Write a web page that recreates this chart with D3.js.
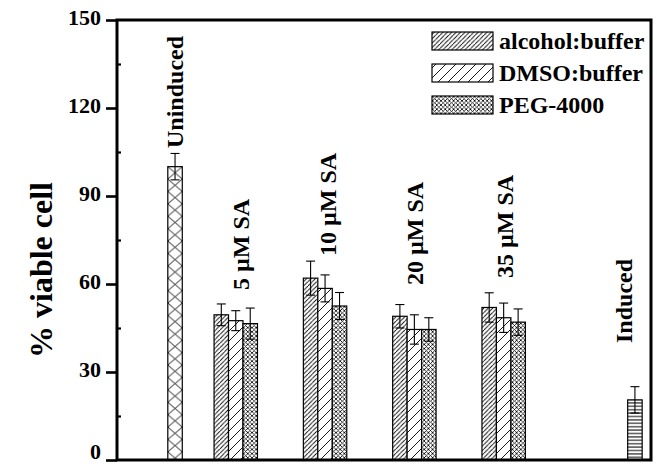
<!DOCTYPE html>
<html>
<head>
<meta charset="utf-8">
<script src="https://cdn.jsdelivr.net/npm/d3@7"></script>
<style>
  html, body { margin: 0; padding: 0; background: #fff; }
  svg { display: block; }
  text { font-family: "Liberation Serif", "Times New Roman", serif; font-weight: bold; fill: #000; }
</style>
</head>
<body>
<svg id="chart" width="657" height="464"></svg>
<script>
// Treatment groups along the x axis (position in axis units)
const groups = ["5 µM SA", "10 µM SA", "20 µM SA", "35 µM SA"];
const groupPos = [2, 3, 4, 5];

// Solvent series: mean % viable cells and error
const seriesNames = ["alcohol:buffer", "DMSO:buffer", "PEG-4000"];
const alcoholMean = [49.5, 62.0, 49.0, 52.0];
const alcoholErr  = [3.7, 5.8, 4.0, 5.0];
const dmsoMean    = [47.5, 58.5, 44.5, 48.5];
const dmsoErr     = [3.4, 4.6, 5.0, 5.0];
const pegMean     = [46.5, 52.5, 44.5, 47.0];
const pegErr      = [5.3, 4.6, 4.0, 4.5];

// Control bars
const controls = ["Uninduced", "Induced"];
const controlPos = [1.32, 6.47];
const controlMean = [100, 20.5];
const controlErr = [4.5, 4.5];

// Y axis ticks
const yTicks = [0, 30, 60, 90, 120, 150];
const yMinor = [15, 45, 75, 105, 135];

const svg = d3.select("#chart");
const plotLeft = 117, plotRight = 651, plotTop = 20, plotBottom = 460;

const x = d3.scaleLinear().domain([0.67, 6.65]).range([plotLeft, plotRight]);
const y = d3.scaleLinear().domain([0, 150]).range([plotBottom, plotTop]);
const barW = x(0.162) - x(0);

// Fill patterns
const defs = svg.append("defs");
function hatch(id, w, h, draw, bg) {
  const p = defs.append("pattern").attr("id", id)
    .attr("patternUnits", "userSpaceOnUse").attr("width", w).attr("height", h);
  p.append("rect").attr("width", w).attr("height", h).attr("fill", bg || "#fff");
  draw(p, w, h);
  return p;
}
const ln = (p, d, sw) => p.append("path").attr("d", d).attr("stroke", "#000")
  .attr("stroke-width", sw).attr("fill", "none");

// dense forward diagonal
hatch("pAlcohol", 4.4, 4.4, (p, w, h) =>
  ln(p, `M0,${h} L${w},0 M${-w},${h} L0,0 M${w},${2*h} L${2*w},${h}`, 0.9));
// sparse forward diagonal
hatch("pDmso", 10, 10, (p, w, h) =>
  ln(p, `M0,${h} L${w},0 M${-w},${h} L0,0 M${w},${2*h} L${2*w},${h}`, 0.9));
// dense cross-hatch
hatch("pPeg", 4.2, 4.2, (p, w, h) =>
  ln(p, `M0,${h} L${w},0 M0,0 L${w},${h} M${-w},${h} L0,0 M${w},${2*h} L${2*w},${h}`, 0.8));
// horizontal lines
hatch("pInduced", 6, 3.4, (p, w, h) => ln(p, `M0,${h/2} L${w},${h/2}`, 1));

const seriesFill = ["url(#pAlcohol)", "url(#pDmso)", "url(#pPeg)"];
const seriesMean = [alcoholMean, dmsoMean, pegMean];
const seriesErr = [alcoholErr, dmsoErr, pegErr];

// Grouped bars
const bars = [];
seriesNames.forEach((name, s) => {
  groupPos.forEach((gp, i) => {
    const cx = x(gp) + (s - 1) * barW;
    bars.push({ cx, v: seriesMean[s][i], e: seriesErr[s][i], fill: seriesFill[s] });
  });
});

// Control bars: sparse cross-hatch for Uninduced, horizontal lines for Induced
controls.forEach((c, i) => {
  const cx = x(controlPos[i]);
  let fill = "url(#pInduced)";
  if (c === "Uninduced") {
    const id = "pUninduced";
    hatch(id, barW, 12.4, (p, w, h) =>
      ln(p, `M0,0 L${w},${h} M0,${h} L${w},0`, 0.9))
      .attr("x", cx - barW / 2).attr("y", y(controlMean[i]));
    fill = `url(#${id})`;
  }
  bars.push({ cx, v: controlMean[i], e: controlErr[i], fill });
});

const g = svg.append("g");
g.selectAll("rect.bar").data(bars).join("rect")
  .attr("class", "bar")
  .attr("x", d => d.cx - barW / 2)
  .attr("y", d => y(d.v))
  .attr("width", barW)
  .attr("height", d => y(0) - y(d.v))
  .attr("fill", d => d.fill)
  .attr("stroke", "#000").attr("stroke-width", 1.2);

// Error bars
const capW = 9;
const eb = g.selectAll("g.err").data(bars).join("g").attr("class", "err")
  .attr("stroke", "#000").attr("stroke-width", 1.1);
eb.append("line").attr("x1", d => d.cx).attr("x2", d => d.cx)
  .attr("y1", d => y(d.v + d.e)).attr("y2", d => y(d.v - d.e));
eb.append("line").attr("x1", d => d.cx - capW / 2).attr("x2", d => d.cx + capW / 2)
  .attr("y1", d => y(d.v + d.e)).attr("y2", d => y(d.v + d.e));
eb.append("line").attr("x1", d => d.cx - capW / 2).attr("x2", d => d.cx + capW / 2)
  .attr("y1", d => y(d.v - d.e)).attr("y2", d => y(d.v - d.e));

// Rotated category labels
const labelFont = 24;
const labels = [
  { t: "Uninduced", cx: x(controlPos[0]), yb: 148 },
  { t: groups[0], cx: x(groupPos[0]) + 5, yb: 290 },
  { t: groups[1], cx: x(groupPos[1]) + 3, yb: 256 },
  { t: groups[2], cx: x(groupPos[2]) + 1, yb: 285 },
  { t: groups[3], cx: x(groupPos[3]) + 1, yb: 278 },
  { t: "Induced", cx: x(controlPos[1]) - 11, yb: 343 }
];
svg.selectAll("text.cat").data(labels).join("text")
  .attr("class", "cat")
  .attr("transform", d => `translate(${d.cx + 8},${d.yb}) rotate(-90)`)
  .attr("font-size", labelFont)
  .attr("text-anchor", "start")
  .text(d => d.t);

// Y axis: major ticks outward with labels, minor ticks inward
const yAxis = d3.axisLeft(y).tickValues(yTicks).tickSize(11).tickPadding(5).tickFormat(d3.format("d"));
const ya = svg.append("g").attr("transform", `translate(${plotLeft},0)`).call(yAxis);
ya.select(".domain").remove();
ya.selectAll(".tick line").attr("stroke", "#000").attr("stroke-width", 2.6);
ya.selectAll(".tick text")
  .attr("font-size", 22).attr("font-family", "Liberation Serif, serif")
  .attr("font-weight", "bold").attr("dy", d => d === 0 ? "-0.08em" : "0.22em");

const yMinorAxis = d3.axisRight(y).tickValues(yMinor).tickSize(4).tickFormat("");
const ym = svg.append("g").attr("transform", `translate(${plotLeft},0)`).call(yMinorAxis);
ym.select(".domain").remove();
ym.selectAll(".tick line").attr("stroke", "#000").attr("stroke-width", 2.2);

// Frame
svg.append("rect").attr("x", plotLeft).attr("y", plotTop)
  .attr("width", plotRight - plotLeft).attr("height", plotBottom - plotTop)
  .attr("fill", "none").attr("stroke", "#000").attr("stroke-width", 3);

// Axis title
svg.append("text")
  .attr("transform", `translate(52,${(plotTop + plotBottom) / 2 + 30}) rotate(-90)`)
  .attr("text-anchor", "middle").attr("font-size", 32)
  .text("% viable cell");

// Legend
const leg = svg.append("g");
seriesNames.forEach((name, i) => {
  const ly = 32 + i * 32;
  leg.append("rect").attr("x", 432).attr("y", ly).attr("width", 61).attr("height", 18)
    .attr("fill", seriesFill[i]).attr("stroke", "#000").attr("stroke-width", 1.2);
  leg.append("text").attr("x", 499).attr("y", ly + 17)
    .attr("font-size", 24).text(name);
});
</script>
</body>
</html>
